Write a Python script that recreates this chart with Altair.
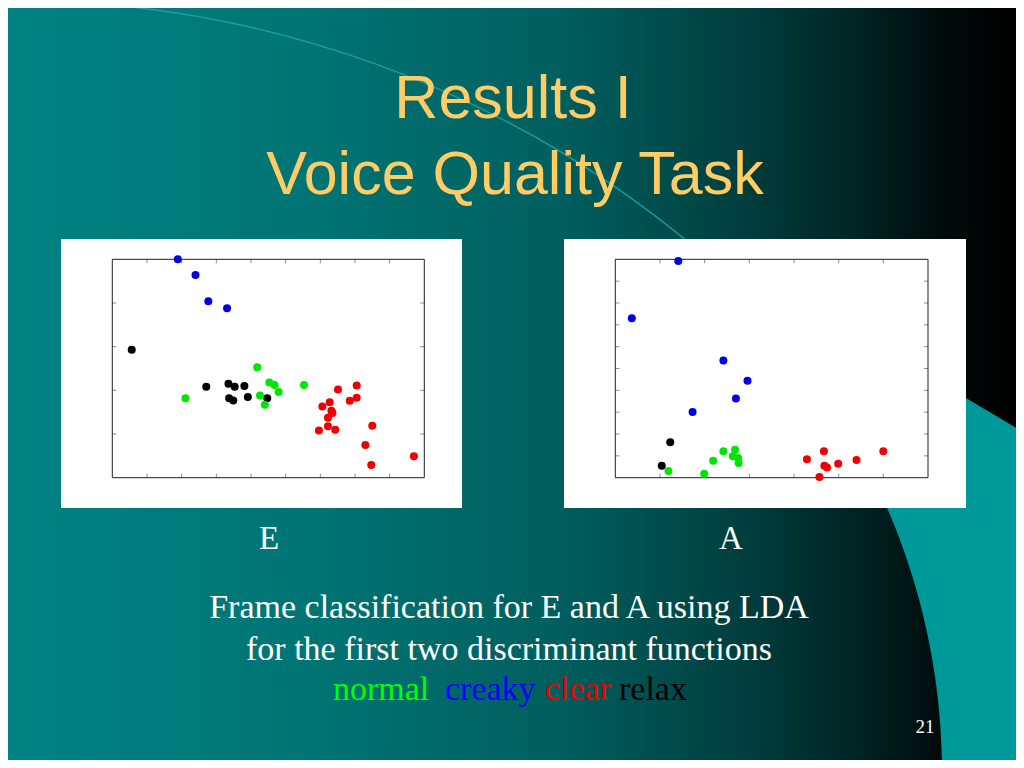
import altair as alt
import pandas as pd

# ---------------- data ----------------
CLASSES = ["normal", "creaky", "clear", "relax"]
CLASS_COLORS = ["#00e600", "#0000e6", "#f00000", "#000000"]

# Panel E (x domain 0..9, y domain 0..5)
E_normal_x = [2.11, 4.18, 4.53, 4.68, 4.80, 4.26, 4.40, 5.53]
E_normal_y = [1.82, 2.53, 2.18, 2.12, 1.96, 1.88, 1.67, 2.12]
E_creaky_x = [1.89, 2.40, 2.77, 3.31]
E_creaky_y = [5.00, 4.64, 4.04, 3.88]
E_clear_x = [6.51, 7.05, 7.05, 6.85, 6.27, 6.06, 6.32, 6.35, 6.22, 5.96, 6.22, 6.43, 7.50, 7.30, 7.47, 8.70]
E_clear_y = [2.02, 2.11, 1.83, 1.76, 1.73, 1.63, 1.53, 1.48, 1.37, 1.08, 1.18, 1.10, 1.19, 0.75, 0.29, 0.49]
E_relax_x = [0.56, 2.71, 3.35, 3.53, 3.81, 3.37, 3.49, 3.91, 4.47]
E_relax_y = [2.93, 2.08, 2.15, 2.08, 2.10, 1.82, 1.77, 1.85, 1.82]
E_XDOMAIN = [0, 9]
E_YDOMAIN = [0, 5]
E_XTICKS = [1, 2, 3, 4, 5, 6, 7, 8]
E_YTICKS = [1, 2, 3, 4]

# Panel A (x domain 0..7, y domain 0..10)
A_normal_x = [1.19, 1.99, 2.19, 2.42, 2.68, 2.63, 2.75, 2.76]
A_normal_y = [0.31, 0.18, 0.78, 1.21, 1.28, 0.98, 0.90, 0.67]
A_creaky_x = [1.41, 0.37, 2.42, 2.96, 2.70, 1.73]
A_creaky_y = [9.92, 7.30, 5.37, 4.44, 3.63, 3.01]
A_clear_x = [4.29, 4.67, 4.68, 4.74, 4.57, 4.99, 5.40, 6.00]
A_clear_y = [0.85, 1.21, 0.55, 0.47, 0.03, 0.64, 0.81, 1.21]
A_relax_x = [1.23, 1.04]
A_relax_y = [1.62, 0.55]
A_XDOMAIN = [0, 7]
A_YDOMAIN = [0, 10]
A_XTICKS = [1, 2, 3, 4, 5, 6]
A_YTICKS = [1, 2, 3, 4, 5, 6, 7, 8, 9]

TITLE_1 = "Results I"
TITLE_2 = "Voice Quality Task"
PANEL_LABELS = ["E", "A"]
CAPTION_1 = "Frame classification for E and A using LDA"
CAPTION_2 = "for the first two discriminant functions"
SLIDE_NO = "21"

# ---------------- layout (chart px = slide px - 8) ----------------
W, H = 1008, 752
ONE = pd.DataFrame({"a": [0]})


def table(groups):
    rows = []
    for cls, xs, ys in groups:
        for x, y in zip(xs, ys):
            rows.append({"x": x, "y": y, "cls": cls})
    return pd.DataFrame(rows)


def value_chart():
    return alt.Chart(ONE)


def panel(df, xdom, ydom, xticks, yticks, left, right, top, bottom):
    xs = alt.Scale(domain=xdom, range=[left, right], nice=False, zero=False)
    ys = alt.Scale(domain=ydom, range=[bottom, top], nice=False, zero=False)
    tl = 4
    xt = pd.DataFrame({"t": xticks})
    yt = pd.DataFrame({"t": yticks})
    tick_color = "#8a8a8a"
    bx = alt.Chart(xt).mark_rule(color=tick_color, strokeWidth=1).encode(
        x=alt.X("t:Q", scale=xs, axis=None), y=alt.value(bottom), y2=alt.value(bottom - tl))
    tx = alt.Chart(xt).mark_rule(color=tick_color, strokeWidth=1).encode(
        x=alt.X("t:Q", scale=xs, axis=None), y=alt.value(top), y2=alt.value(top + tl))
    ly = alt.Chart(yt).mark_rule(color=tick_color, strokeWidth=1).encode(
        y=alt.Y("t:Q", scale=ys, axis=None), x=alt.value(left), x2=alt.value(left + tl))
    ry = alt.Chart(yt).mark_rule(color=tick_color, strokeWidth=1).encode(
        y=alt.Y("t:Q", scale=ys, axis=None), x=alt.value(right), x2=alt.value(right - tl))
    frame = value_chart().mark_rect(fillOpacity=0, stroke="#1e1e1e", strokeWidth=1).encode(
        x=alt.value(left), x2=alt.value(right), y=alt.value(top), y2=alt.value(bottom))
    pts = alt.Chart(df).mark_circle(size=64, opacity=1).encode(
        x=alt.X("x:Q", scale=xs, axis=None),
        y=alt.Y("y:Q", scale=ys, axis=None),
        color=alt.Color("cls:N", scale=alt.Scale(domain=CLASSES, range=CLASS_COLORS), legend=None),
    )
    return alt.layer(bx, tx, ly, ry, frame, pts)


E_df = table([("relax", E_relax_x, E_relax_y), ("normal", E_normal_x, E_normal_y),
              ("clear", E_clear_x, E_clear_y), ("creaky", E_creaky_x, E_creaky_y)])
A_df = table([("relax", A_relax_x, A_relax_y), ("normal", A_normal_x, A_normal_y),
              ("clear", A_clear_x, A_clear_y), ("creaky", A_creaky_x, A_creaky_y)])

E_panel = panel(E_df, E_XDOMAIN, E_YDOMAIN, E_XTICKS, E_YTICKS, 104.3, 416.3, 251.3, 469.7)
A_panel = panel(A_df, A_XDOMAIN, A_YDOMAIN, A_XTICKS, A_YTICKS, 607.3, 920.0, 251.3, 469.7)

# ---------------- slide decoration ----------------
grad = alt.Gradient(
    gradient="linear", x1=0, x2=1, y1=0, y2=0,
    stops=[
        alt.GradientStop(offset=0.0, color="#008282"),
        alt.GradientStop(offset=0.3, color="#007474"),
        alt.GradientStop(offset=0.55, color="#005e5e"),
        alt.GradientStop(offset=0.72, color="#004040"),
        alt.GradientStop(offset=0.85, color="#002222"),
        alt.GradientStop(offset=0.93, color="#000a0a"),
        alt.GradientStop(offset=1.0, color="#000000"),
    ],
)
bg = value_chart().mark_rect(color=grad).encode(
    x=alt.value(0), x2=alt.value(W), y=alt.value(0), y2=alt.value(H))

teal_path = "M 862 333 L 871 482 A 665 665 0 0 1 934 760 L 1012 760 L 1012 422 Z"
teal_shape = value_chart().mark_point(shape=teal_path, size=4, filled=True, opacity=1,
                                      color="#009999", strokeWidth=0).encode(
    x=alt.value(0), y=alt.value(0))

arc_path = "M -8 -7 A 1057 1057 0 0 1 692 244"
arc_line = value_chart().mark_point(shape=arc_path, size=4, filled=False, opacity=0.85,
                                    color="#1fa5a5", strokeWidth=1.5).encode(
    x=alt.value(0), y=alt.value(0))


def text(t, x, y, size, color, font, align="center"):
    return value_chart().mark_text(text=t, font=font, fontSize=size, color=color, align=align,
                                   baseline="alphabetic").encode(
        x=alt.value(x), y=alt.value(y))


SANS = "Liberation Sans"
SERIF = "Liberation Serif"
TITLE_COLOR = "#ffcc66"

title_layers = [
    text(TITLE_1, 505, 110, 61, TITLE_COLOR, SANS),
    text(TITLE_2, 507, 186, 61, TITLE_COLOR, SANS),
]

panel_E_bg = value_chart().mark_rect(color="white").encode(
    x=alt.value(53), x2=alt.value(454), y=alt.value(231), y2=alt.value(500))
panel_A_bg = value_chart().mark_rect(color="white").encode(
    x=alt.value(556), x2=alt.value(958), y=alt.value(231), y2=alt.value(500))

labels = [
    text(PANEL_LABELS[0], 261, 541, 33, "white", SERIF),
    text(PANEL_LABELS[1], 723, 541, 33, "white", SERIF),
    text(CAPTION_1, 501, 610, 34, "white", SERIF),
    text(CAPTION_2, 501, 652, 34, "white", SERIF),
    text(CLASSES[0], 325, 692, 34, "#00ff00", SERIF, align="left"),
    text(CLASSES[1], 437, 692, 34, "#0000ff", SERIF, align="left"),
    text(CLASSES[2], 537, 692, 34, "#ee0000", SERIF, align="left"),
    text(CLASSES[3], 611, 692, 34, "#000000", SERIF, align="left"),
    text(SLIDE_NO, 917, 725, 19, "white", SERIF),
]

chart = alt.layer(
    bg, teal_shape, arc_line, *title_layers, panel_E_bg, panel_A_bg,
    E_panel, A_panel, *labels,
).resolve_scale(x="independent", y="independent", color="independent").properties(
    width=W, height=H, padding=0,
    autosize=alt.AutoSizeParams(type="none"),
).configure_view(stroke=None)

chart.save("out.html", embed_options={"renderer": "svg", "actions": False})
